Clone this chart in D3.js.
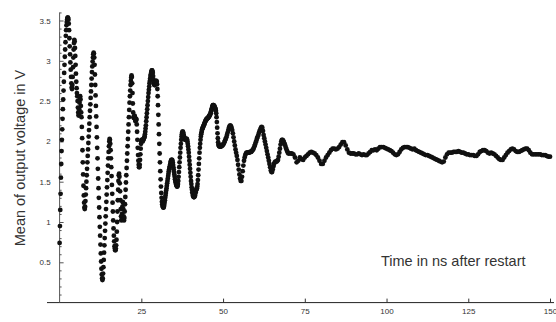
<!DOCTYPE html>
<html><head><meta charset="utf-8">
<script src="https://cdn.jsdelivr.net/npm/d3@7"></script>
<style>
html,body{margin:0;padding:0;background:#fff;}
svg{display:block;}
text{font-family:"Liberation Sans",Arial,sans-serif;fill:#333;}
</style></head>
<body>
<svg id="chart" width="556" height="322"></svg>
<script>
// Segment A: t = 0.0 .. 50.0 ns, sampled every 0.1 ns
const segAStart = 0, segAStep = 0.1;
const voltageA = [
0.74,0.95,1.15,1.35,1.55,1.72,1.88,2.02,2.15,2.28,
2.40,2.52,2.63,2.74,2.85,2.95,3.05,3.14,3.23,3.31,
3.38,3.44,3.48,3.51,3.53,3.54,3.53,3.51,3.46,3.38,
3.28,3.18,3.08,2.98,2.89,2.80,2.72,2.67,2.65,2.70,
2.80,2.92,3.04,3.14,3.22,3.26,3.24,3.16,3.06,2.95,
2.84,2.74,2.66,2.60,2.56,2.50,2.42,2.36,2.32,2.33,
2.40,2.48,2.54,2.56,2.52,2.44,2.36,2.30,2.18,2.04,
1.89,1.74,1.59,1.45,1.33,1.24,1.18,1.16,1.19,1.26,
1.34,1.42,1.50,1.58,1.66,1.74,1.82,1.90,1.98,2.06,
2.14,2.22,2.30,2.38,2.46,2.54,2.62,2.70,2.78,2.86,
2.93,2.99,3.04,3.08,3.10,3.09,3.04,2.95,2.83,2.70,
2.57,2.44,2.31,2.18,2.05,1.92,1.79,1.66,1.54,1.42,
1.30,1.18,1.06,0.94,0.83,0.72,0.61,0.51,0.42,0.35,
0.30,0.28,0.30,0.36,0.44,0.53,0.62,0.71,0.80,0.89,
0.98,1.07,1.16,1.25,1.34,1.43,1.52,1.61,1.70,1.79,
1.87,1.94,2.00,2.03,2.02,1.97,1.89,1.79,1.68,1.57,
1.46,1.35,1.24,1.13,1.02,0.92,0.83,0.76,0.70,0.67,
0.65,0.65,0.67,0.71,0.78,0.88,1.00,1.13,1.27,1.40,
1.51,1.58,1.60,1.56,1.48,1.38,1.27,1.16,1.07,1.02,
1.03,1.10,1.19,1.25,1.24,1.16,1.07,1.02,1.05,1.13,
1.22,1.31,1.40,1.49,1.58,1.67,1.76,1.85,1.94,2.03,
2.12,2.21,2.30,2.39,2.48,2.56,2.63,2.70,2.75,2.79,
2.82,2.80,2.72,2.60,2.47,2.36,2.30,2.29,2.31,2.32,
2.31,2.28,2.25,2.26,2.28,2.27,2.21,2.12,2.02,1.92,
1.83,1.76,1.71,1.68,1.68,1.71,1.77,1.84,1.91,1.97,
2.00,2.02,2.02,2.01,2.00,2.01,2.02,2.03,2.04,2.05,
2.06,2.09,2.12,2.16,2.20,2.25,2.30,2.35,2.40,2.45,
2.50,2.55,2.60,2.64,2.68,2.72,2.75,2.78,2.81,2.83,
2.85,2.87,2.88,2.88,2.87,2.85,2.81,2.77,2.73,2.71,
2.70,2.70,2.71,2.73,2.74,2.75,2.75,2.74,2.71,2.65,
2.56,2.45,2.33,2.21,2.09,1.97,1.85,1.74,1.63,1.53,
1.44,1.36,1.30,1.25,1.22,1.20,1.19,1.18,1.18,1.19,
1.21,1.24,1.27,1.30,1.33,1.36,1.39,1.42,1.45,1.48,
1.51,1.54,1.57,1.60,1.63,1.65,1.67,1.69,1.71,1.73,
1.75,1.76,1.77,1.77,1.77,1.76,1.74,1.71,1.68,1.65,
1.62,1.59,1.56,1.53,1.51,1.49,1.47,1.46,1.45,1.44,
1.44,1.45,1.47,1.51,1.56,1.62,1.68,1.74,1.80,1.86,
1.92,1.97,2.02,2.06,2.09,2.11,2.12,2.12,2.11,2.09,
2.07,2.05,2.04,2.03,2.02,2.02,2.02,2.03,2.03,2.03,
2.02,2.00,1.97,1.94,1.90,1.86,1.81,1.76,1.71,1.66,
1.61,1.56,1.51,1.47,1.43,1.40,1.37,1.35,1.33,1.32,
1.31,1.31,1.31,1.32,1.33,1.35,1.37,1.39,1.40,1.41,
1.42,1.44,1.47,1.52,1.58,1.65,1.72,1.79,1.86,1.92,
1.97,2.02,2.06,2.09,2.11,2.13,2.15,2.16,2.17,2.18,
2.19,2.20,2.21,2.22,2.23,2.24,2.25,2.26,2.27,2.27,
2.28,2.28,2.29,2.29,2.29,2.30,2.30,2.31,2.32,2.32,
2.33,2.34,2.35,2.37,2.38,2.40,2.41,2.43,2.44,2.45,
2.45,2.45,2.44,2.44,2.43,2.42,2.41,2.40,2.38,2.35,
2.30,2.24,2.17,2.10,2.04,1.99,1.96,1.95,1.94,1.94,
1.94,1.94,1.94,1.94,1.94,1.94,1.95,1.95,1.95,1.96,
1.96
];
// Segment B: t = 50.2 .. 70.0 ns, sampled every 0.2 ns
const segBStart = 50.2, segBStep = 0.2;
const voltageB = [
1.97,1.99,2.01,2.03,2.05,2.08,2.11,2.14,2.17,2.19,
2.20,2.19,2.17,2.14,2.10,2.05,2.00,1.95,1.90,1.86,
1.82,1.77,1.71,1.65,1.59,1.54,1.51,1.51,1.56,1.63,
1.70,1.76,1.80,1.83,1.85,1.86,1.86,1.86,1.86,1.86,
1.87,1.87,1.87,1.88,1.89,1.90,1.92,1.94,1.96,1.99,
2.01,2.04,2.06,2.08,2.11,2.13,2.15,2.17,2.18,2.17,
2.13,2.08,2.04,2.00,1.96,1.92,1.88,1.84,1.80,1.76,
1.72,1.68,1.64,1.62,1.62,1.65,1.69,1.72,1.74,1.75,
1.75,1.75,1.76,1.77,1.81,1.86,1.91,1.96,2.00,2.02,
2.02,2.01,1.99,1.97,1.95,1.92,1.90,1.88,1.86,1.85
];
// Segment C: t = 70.5 .. 150.0 ns, sampled every 0.5 ns
const segCStart = 70.5, segCStep = 0.5;
const voltageC = [
1.85,1.85,1.84,1.80,1.74,1.76,1.80,1.78,1.77,1.80,
1.82,1.84,1.86,1.87,1.86,1.85,1.83,1.80,1.76,1.72,
1.72,1.76,1.80,1.83,1.86,1.89,1.91,1.91,1.90,1.91,
1.93,1.96,1.99,1.99,1.95,1.90,1.86,1.85,1.85,1.85,
1.84,1.84,1.85,1.84,1.83,1.84,1.83,1.83,1.85,1.87,
1.89,1.89,1.90,1.89,1.91,1.93,1.93,1.93,1.92,1.91,
1.90,1.89,1.88,1.86,1.84,1.83,1.84,1.87,1.90,1.92,
1.93,1.93,1.93,1.92,1.91,1.90,1.91,1.89,1.88,1.87,
1.86,1.85,1.84,1.83,1.83,1.82,1.81,1.80,1.79,1.78,
1.77,1.76,1.75,1.74,1.75,1.80,1.84,1.86,1.86,1.86,
1.87,1.87,1.87,1.88,1.87,1.86,1.86,1.85,1.84,1.84,
1.83,1.83,1.83,1.82,1.82,1.84,1.87,1.88,1.89,1.89,
1.88,1.86,1.85,1.86,1.85,1.84,1.82,1.80,1.78,1.77,
1.77,1.80,1.83,1.86,1.88,1.90,1.91,1.90,1.88,1.87,
1.87,1.88,1.89,1.90,1.91,1.91,1.89,1.86,1.84,1.84,
1.84,1.84,1.84,1.84,1.83,1.83,1.83,1.82,1.81,1.81
];
const xTicks = [25, 50, 75, 100, 125, 150];
const yTicks = [0.5, 1, 1.5, 2, 2.5, 3, 3.5];
const yMinorTicks = d3.range(1, 37).map(i => i / 10).filter(v => Math.abs(v * 2 - Math.round(v * 2)) > 1e-6);
const yTitle = "Mean of output voltage in V";
const xTitle = "Time in ns after restart";

const points = [];
[[segAStart, segAStep, voltageA], [segBStart, segBStep, voltageB], [segCStart, segCStep, voltageC]]
  .forEach(([t0, dt, vals]) => vals.forEach((v, i) => points.push({ t: +(t0 + i * dt).toFixed(2), v })));

const svg = d3.select("#chart");
const x = d3.scaleLinear().domain([0, 150]).range([59.6, 550]);
const y = d3.scaleLinear().domain([0, 3.6]).range([302.6, 12.44]);

// axes lines
svg.append("line").attr("x1", 47).attr("x2", 554).attr("y1", y(0)).attr("y2", y(0))
  .attr("stroke", "#222").attr("stroke-width", 1);
svg.append("line").attr("x1", x(0)).attr("x2", x(0)).attr("y1", y(0)).attr("y2", y(3.6))
  .attr("stroke", "#555").attr("stroke-width", 1);

const yAxis = svg.append("g").attr("transform", `translate(${x(0)},0)`)
  .call(d3.axisLeft(y).tickValues(yTicks).tickSize(-4).tickPadding(9).tickFormat(d3.format("")));
yAxis.select(".domain").remove();
yAxis.selectAll("line").attr("stroke", "#555");
yAxis.selectAll("text").style("font-size", "8px").attr("fill", "#333");

const yMinor = svg.append("g").attr("transform", `translate(${x(0)},0)`)
  .call(d3.axisLeft(y).tickValues(yMinorTicks).tickSize(-2).tickFormat(""));
yMinor.select(".domain").remove();
yMinor.selectAll("line").attr("stroke", "#555");

const xAxis = svg.append("g").attr("transform", `translate(0,${y(0)})`)
  .call(d3.axisBottom(x).tickValues(xTicks).tickSize(-4).tickPadding(6));
xAxis.select(".domain").remove();
xAxis.selectAll("line").attr("stroke", "#333");
xAxis.selectAll("text").style("font-size", "8px").attr("fill", "#333");

// data dots
svg.append("g").selectAll("circle").data(points).join("circle")
  .attr("cx", d => x(d.t)).attr("cy", d => y(d.v)).attr("r", 2.4).attr("fill", "#111");

// titles
svg.append("text").attr("transform", "translate(25,158) rotate(-90)")
  .attr("text-anchor", "middle").style("font-size", "14.5px").text(yTitle);
svg.append("text").attr("x", 381).attr("y", 266).style("font-size", "14.5px").text(xTitle);
</script>
</body></html>
